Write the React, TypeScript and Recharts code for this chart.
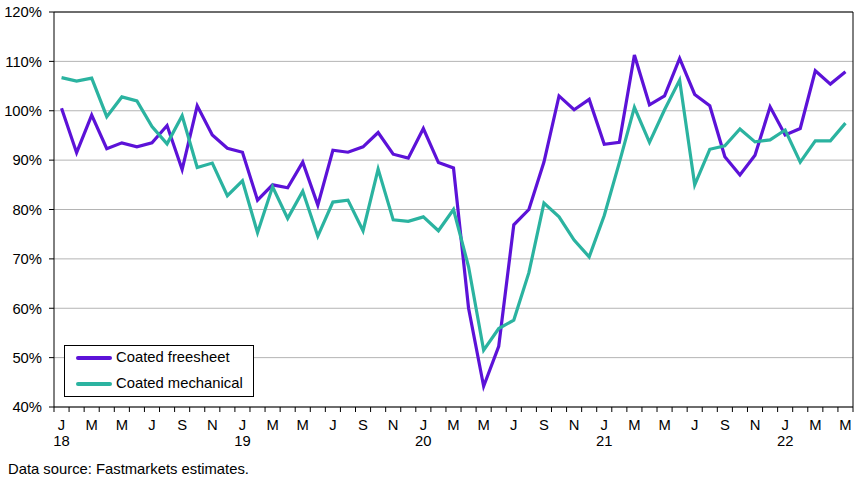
import React from "react";
import { LineChart, Line, XAxis, YAxis, CartesianGrid, ReferenceLine, Legend } from "recharts";

const monthLabels = [
  "J","F","M","A","M","J","J","A","S","O","N","D",
  "J","F","M","A","M","J","J","A","S","O","N","D",
  "J","F","M","A","M","J","J","A","S","O","N","D",
  "J","F","M","A","M","J","J","A","S","O","N","D",
  "J","F","M","A","M",
];
const yearLabels: Record<number, string> = { 0: "18", 12: "19", 24: "20", 36: "21", 48: "22" };

const coatedFreesheet = [
  100.5, 91.5, 99.1, 92.3, 93.5, 92.7, 93.5, 97.0, 88.1, 101.0, 95.1, 92.4,
  91.6, 81.9, 85.0, 84.4, 89.6, 80.9, 92.0, 91.6, 92.7, 95.6, 91.2, 90.4,
  96.4, 89.5, 88.4, 60.0, 44.2, 52.3, 76.9, 80.0, 89.6, 103.0, 100.2, 102.3,
  93.2, 93.6, 111.3, 101.2, 103.0, 110.6, 103.3, 101.0, 90.7, 87.0, 91.0, 100.8,
  95.1, 96.4, 108.1, 105.4, 107.9,
];
const coatedMechanical = [
  106.7, 106.0, 106.6, 98.8, 102.8, 102.0, 96.8, 93.3, 99.0, 88.5, 89.4, 82.8,
  85.8, 75.3, 84.6, 78.2, 83.7, 74.6, 81.5, 81.9, 75.7, 88.2, 77.9, 77.6,
  78.5, 75.7, 80.0, 68.4, 51.5, 55.9, 57.6, 67.2, 81.3, 78.5, 73.8, 70.4,
  78.8, 89.5, 100.7, 93.6, 100.2, 106.2, 85.0, 92.2, 92.9, 96.3, 93.7, 94.1,
  96.1, 89.6, 93.9, 93.9, 97.5,
];
const yTicks = [40, 50, 60, 70, 80, 90, 100, 110, 120];

const PURPLE = "#5c12d8";
const TEAL = "#2bb3a0";
const FONT = "'Liberation Sans', Arial, sans-serif";
const FS = 14.8;

const data = monthLabels.map((m, i) => ({
  i,
  month: m,
  freesheet: coatedFreesheet[i],
  mechanical: coatedMechanical[i],
}));

const xTicks: number[] = [];
for (let k = 0; k <= monthLabels.length * 2; k++) xTicks.push(-0.5 + k * 0.5);

const XTick = (props: any) => {
  const { x, y, payload } = props;
  const v = payload.value as number;
  if (!Number.isInteger(v)) {
    return <line x1={x} x2={x} y1={y} y2={y + 5} stroke="#000" strokeWidth={1} />;
  }
  if (v % 2 !== 0) return <g />;
  const yr = yearLabels[v];
  return (
    <g>
      <text x={x} y={y + 23} textAnchor="middle" fontSize={FS} fontFamily={FONT} fill="#000">
        {monthLabels[v]}
      </text>
      {yr && (
        <text x={x} y={y + 39} textAnchor="middle" fontSize={FS} fontFamily={FONT} fill="#000">
          {yr}
        </text>
      )}
    </g>
  );
};

const LegendBox = () => (
  <div
    style={{
      width: 188,
      height: 50,
      border: "1px solid #000",
      background: "#fff",
      fontFamily: FONT,
      fontSize: FS,
      color: "#000",
      position: "relative",
    }}
  >
    {[
      { name: "Coated freesheet", color: PURPLE, top: 12 },
      { name: "Coated mechanical", color: TEAL, top: 38 },
    ].map((r) => (
      <div key={r.name}>
        <div
          style={{
            position: "absolute",
            left: 11,
            top: r.top - 2,
            width: 36,
            height: 4,
            borderRadius: 2,
            background: r.color,
          }}
        />
        <div style={{ position: "absolute", left: 51, top: r.top - 9, lineHeight: "17px", whiteSpace: "nowrap" }}>
          {r.name}
        </div>
      </div>
    ))}
  </div>
);

export default function App() {
  return (
    <div style={{ position: "absolute", left: 0, top: 0, width: 865, height: 481, background: "#fff" }}>
      <LineChart width={865} height={481} data={data} margin={{ top: 12, right: 12, left: 0, bottom: 34 }}>
        <CartesianGrid vertical={false} stroke="#b4b4b4" strokeWidth={1} />
        <XAxis
          dataKey="i"
          type="number"
          domain={[-0.5, 52.5]}
          ticks={xTicks}
          interval={0}
          tick={<XTick />}
          tickLine={false}
          tickSize={0}
          tickMargin={0}
          height={40}
          axisLine={{ stroke: "#000", strokeWidth: 1 }}
          allowDataOverflow
        />
        <YAxis
          type="number"
          domain={[40, 120]}
          ticks={yTicks}
          interval={0}
          width={54}
          tickSize={5}
          tickMargin={7}
          tickFormatter={(v: number) => `${v}%`}
          tick={{ fontSize: FS, fontFamily: FONT, fill: "#000" }}
          tickLine={{ stroke: "#000" }}
          axisLine={{ stroke: "#000", strokeWidth: 1 }}
        />
        <ReferenceLine y={120} stroke="#000" strokeWidth={1} />
        <ReferenceLine x={52.5} stroke="#000" strokeWidth={1} />
        <Legend
          layout="vertical"
          align="center"
          verticalAlign="middle"
          content={() => <LegendBox />}
          wrapperStyle={{ left: 64, top: 345, width: 190, height: 52 }}
        />
        <Line
          type="linear"
          dataKey="freesheet"
          name="Coated freesheet"
          stroke={PURPLE}
          strokeWidth={3.2}
          dot={false}
          isAnimationActive={false}
        />
        <Line
          type="linear"
          dataKey="mechanical"
          name="Coated mechanical"
          stroke={TEAL}
          strokeWidth={3.2}
          dot={false}
          isAnimationActive={false}
        />
      </LineChart>
      <div
        style={{
          position: "absolute",
          left: 8,
          top: 461,
          fontFamily: FONT,
          fontSize: FS,
          lineHeight: "17px",
          color: "#000",
          whiteSpace: "nowrap",
        }}
      >
        Data source: Fastmarkets estimates.
      </div>
    </div>
  );
}
